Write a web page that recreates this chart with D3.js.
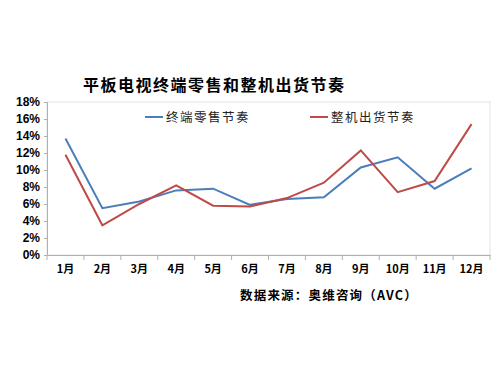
<!DOCTYPE html>
<html>
<head>
<meta charset="utf-8">
<script src="https://cdn.jsdelivr.net/npm/d3@7"></script>
<style>
  body { margin: 0; background: #fff; }
  text { font-family: "Noto Sans CJK SC", "DejaVu Sans", sans-serif; }
</style>
</head>
<body>
<div id="chart"></div>
<script>
const months = ["1月", "2月", "3月", "4月", "5月", "6月", "7月", "8月", "9月", "10月", "11月", "12月"];
const retailValues = [13.7, 5.5, 6.3, 7.6, 7.8, 5.9, 6.6, 6.8, 10.3, 11.5, 7.8, 10.2];
const shipValues = [11.8, 3.5, 6.0, 8.2, 5.8, 5.7, 6.7, 8.5, 12.3, 7.4, 8.7, 15.4];
const yTicks = [0, 2, 4, 6, 8, 10, 12, 14, 16, 18];
const seriesNames = ["终端零售节奏", "整机出货节奏"];
const titleText = "平板电视终端零售和整机出货节奏";
const sourceText = "数据来源：奥维咨询（AVC）";

const width = 500, height = 375;
const margin = {top: 102, right: 10, bottom: 120, left: 47};
const plotW = width - margin.left - margin.right;
const plotH = height - margin.top - margin.bottom;

const svg = d3.select("#chart").append("svg")
    .attr("width", width)
    .attr("height", height);

const g = svg.append("g")
    .attr("transform", `translate(${margin.left},${margin.top})`);

const x = d3.scaleBand().domain(months).range([0, plotW]);
const y = d3.scaleLinear().domain([0, 18]).range([plotH, 0]);

// plot border
g.append("rect")
    .attr("x", 0).attr("y", 0)
    .attr("width", plotW).attr("height", plotH)
    .attr("fill", "none")
    .attr("stroke", "#e4e4e4");

// Y axis
const yAxis = g.append("g")
    .call(d3.axisLeft(y).tickValues(yTicks).tickSize(3).tickFormat(d => d + "%"));
yAxis.select(".domain").attr("stroke", "#b0b0b0");
yAxis.selectAll(".tick line").attr("stroke", "#b0b0b0");
yAxis.selectAll("text")
    .attr("x", -7)
    .style("font-family", "Arial, 'Liberation Sans', sans-serif")
    .style("font-size", "12px")
    .style("font-weight", "bold")
    .attr("fill", "#000");

// X axis
const xAxis = g.append("g")
    .attr("transform", `translate(0,${plotH})`)
    .call(d3.axisBottom(x).tickSize(0).tickPadding(10));
xAxis.select(".domain").attr("stroke", "#b0b0b0");
xAxis.selectAll("text")
    .style("font-size", "11px")
    .style("font-weight", "bold")
    .attr("fill", "#000");
// tick marks at band edges
g.selectAll(".xtick")
    .data(d3.range(months.length + 1))
    .join("line")
    .attr("x1", i => i * x.step())
    .attr("x2", i => i * x.step())
    .attr("y1", plotH)
    .attr("y2", plotH + 5)
    .attr("stroke", "#b0b0b0");

const line = d3.line()
    .x((d, i) => x(months[i]) + x.bandwidth() / 2)
    .y(d => y(d));

const colors = ["#4a7ebb", "#be4b48"];
[retailValues, shipValues].forEach((vals, k) => {
    g.append("path")
        .datum(vals)
        .attr("fill", "none")
        .attr("stroke", colors[k])
        .attr("stroke-width", 2)
        .attr("d", line);
});

// legend
const legendX = [145, 310];
seriesNames.forEach((name, k) => {
    svg.append("line")
        .attr("x1", legendX[k]).attr("x2", legendX[k] + 18)
        .attr("y1", 117).attr("y2", 117)
        .attr("stroke", colors[k])
        .attr("stroke-width", 2);
    svg.append("text")
        .attr("x", legendX[k] + 21)
        .attr("y", 121.5)
        .style("font-size", "12.5px")
        .style("letter-spacing", "1.5px")
        .attr("fill", "#222")
        .text(name);
});

// title
svg.append("text")
    .attr("x", 83)
    .attr("y", 91)
    .style("font-size", "16px")
    .style("font-weight", "bold")
    .style("letter-spacing", "1.5px")
    .attr("fill", "#000")
    .text(titleText);

// source
svg.append("text")
    .attr("x", 240)
    .attr("y", 300)
    .style("font-size", "12.5px")
    .style("font-weight", "bold")
    .style("letter-spacing", "1.2px")
    .attr("fill", "#000")
    .text(sourceText);
</script>
</body>
</html>
